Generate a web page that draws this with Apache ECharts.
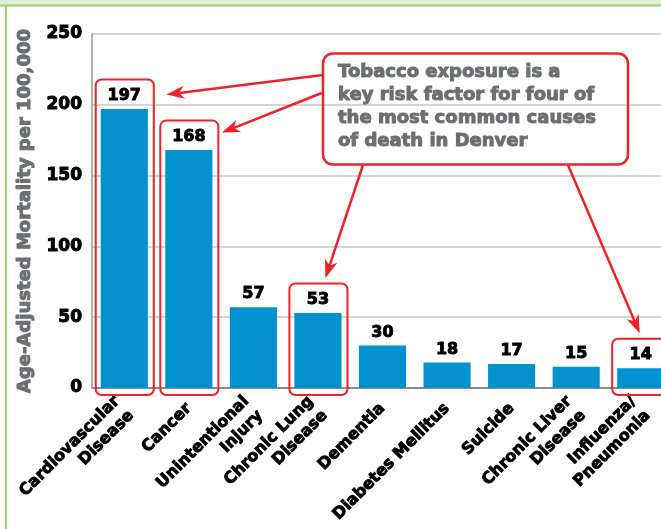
<!DOCTYPE html>
<html>
<head>
<meta charset="utf-8">
<script src="https://cdn.jsdelivr.net/npm/echarts@6/dist/echarts.min.js"></script>
<style>
  html, body { margin: 0; padding: 0; background: #fff; }
  #chart { width: 661px; height: 529px; }
</style>
</head>
<body>
<div id="chart"></div>
<script>
// Leading causes of death, age-adjusted mortality per 100,000
const causes = [
  'Cardiovascular\nDisease', 'Cancer', 'Unintentional\nInjury', 'Chronic Lung\nDisease',
  'Dementia', 'Diabetes Mellitus', 'Suicide', 'Chronic Liver\nDisease', 'Influenza/\nPneumonia'
];
const rates = [197, 168, 57, 53, 30, 18, 17, 15, 14];
// Causes for which tobacco exposure is a key risk factor
const tobaccoRelated = ['Cardiovascular\nDisease', 'Cancer', 'Chronic Lung\nDisease', 'Influenza/\nPneumonia'];
const yTicks = [0, 50, 100, 150, 200, 250];
const calloutLines = [
  'Tobacco exposure is a',
  'key risk factor for four of',
  'the most common causes',
  'of death in Denver'
];

const RED = '#ee2229';
const GREY = '#6d6e71';
const FONT = 'DejaVu Sans';

const highlightData = tobaccoRelated.map(c => [causes.indexOf(c), rates[causes.indexOf(c)]]);

const chart = echarts.init(document.getElementById('chart'), null, { renderer: 'canvas' });

chart.setOption({
  animation: false,
  backgroundColor: '#ffffff',
  // the plot runs on past the right edge of the canvas
  grid: { left: 92, top: 34, height: 354, width: 581, outerBoundsMode: 'none', containLabel: false },
  xAxis: {
    type: 'category',
    data: causes,
    axisLine: { lineStyle: { color: '#8c8c8c', width: 2 } },
    axisTick: { inside: true, length: 8, lineStyle: { color: '#8c8c8c', width: 1.5 } },
    axisLabel: {
      interval: 0, rotate: 45, margin: 18,
      color: '#000', fontFamily: FONT, fontWeight: 'bold', fontSize: 16, lineHeight: 20,
      textBorderColor: '#000', textBorderWidth: 0.9
    }
  },
  yAxis: {
    type: 'value',
    min: yTicks[0], max: yTicks[yTicks.length - 1], interval: 50,
    name: 'Age-Adjusted Mortality per 100,000',
    nameLocation: 'middle', nameGap: 55,
    nameTextStyle: {
      color: GREY, fontFamily: FONT, fontWeight: 'bold', fontSize: 18,
      textBorderColor: GREY, textBorderWidth: 1
    },
    axisLine: { show: true, lineStyle: { color: '#9a9a9a', width: 1.5 } },
    axisTick: { show: false },
    axisLabel: {
      margin: 10, color: '#000', fontFamily: FONT, fontWeight: 'bold', fontSize: 17,
      textBorderColor: '#000', textBorderWidth: 1
    },
    splitLine: { lineStyle: { color: '#c6c6c6', width: 1.5 } }
  },
  series: [
    {
      type: 'bar',
      data: rates,
      barCategoryGap: '27%',
      itemStyle: { color: '#0392cf' },
      label: {
        show: true, position: 'top', distance: 5,
        color: '#000', fontFamily: FONT, fontWeight: 'bold', fontSize: 16,
        textBorderColor: '#000', textBorderWidth: 0.9
      },
      z: 2
    },
    {
      // Rounded red frames around the tobacco-related causes
      type: 'custom',
      data: highlightData,
      z: 5,
      renderItem: function (params, api) {
        const top = api.coord([api.value(0), api.value(1)]);
        const base = api.coord([api.value(0), 0]);
        const band = api.size([1, 0])[0];
        const w = band * 0.9;
        return {
          type: 'rect',
          shape: { x: top[0] - w / 2 + 0.5, y: top[1] - 29.5, width: w, height: base[1] - top[1] + 29.5 + 7, r: 6 },
          style: { fill: 'none', stroke: RED, lineWidth: 2 }
        };
      }
    }
  ]
});

// Callout and arrows pointing at the framed causes
function arrow(x1, y1, x2, y2) {
  const ang = Math.atan2(y2 - y1, x2 - x1);
  const len = 18, half = 6.5;
  const bx = x2 - len * Math.cos(ang), by = y2 - len * Math.sin(ang);
  const px = -Math.sin(ang) * half, py = Math.cos(ang) * half;
  const nx = x2 - (len - 5) * Math.cos(ang), ny = y2 - (len - 5) * Math.sin(ang);
  return [
    { type: 'line', shape: { x1: x1, y1: y1, x2: nx, y2: ny }, style: { stroke: RED, lineWidth: 2.5 } },
    { type: 'polygon', shape: { points: [[x2, y2], [bx + px, by + py], [nx, ny], [bx - px, by - py]] }, style: { fill: RED } }
  ];
}

const px = (i) => chart.convertToPixel({ gridIndex: 0 }, [i, rates[i]]);
const band = chart.getModel().getComponent('xAxis', 0).axis.getBandWidth();
const boxW = band * 0.9;
const t = highlightData.map(d => px(d[0]));

const graphics = [
  { type: 'rect', shape: { x: 0, y: 0, width: 661, height: 5 }, style: { fill: '#e2efd9' }, z: 20 },
  { type: 'line', shape: { x1: 0, y1: 5.5, x2: 661, y2: 5.5 }, style: { stroke: '#9fcf70', lineWidth: 2 }, z: 21 },
  { type: 'line', shape: { x1: 6, y1: 5, x2: 6, y2: 529 }, style: { stroke: '#9fcf70', lineWidth: 2 }, z: 21 },
  { type: 'rect', shape: { x: 323, y: 53.5, width: 305, height: 111, r: 10 }, style: { fill: 'none', stroke: RED, lineWidth: 2.5 }, z: 20 },
  {
    type: 'text', x: 338, y: 61, z: 21,
    style: {
      text: calloutLines.join('\n'), fill: GREY, font: 'bold 18px "DejaVu Sans"', lineHeight: 23,
      stroke: GREY, lineWidth: 1
    }
  }
];
const arrows = [
  arrow(323, 75, t[0][0] + boxW / 2 + 13, t[0][1] - 14.5),
  arrow(323, 92.5, t[1][0] + boxW / 2 + 4, t[1][1] - 17.5),
  arrow(363, 165, t[2][0] + 7.5, t[2][1] - 35),
  arrow(568, 165, t[3][0] - 1, t[3][1] - 35)
];
arrows.forEach(a => a.forEach(g => { g.z = 22; graphics.push(g); }));

chart.setOption({ graphic: graphics });
</script>
</body>
</html>
